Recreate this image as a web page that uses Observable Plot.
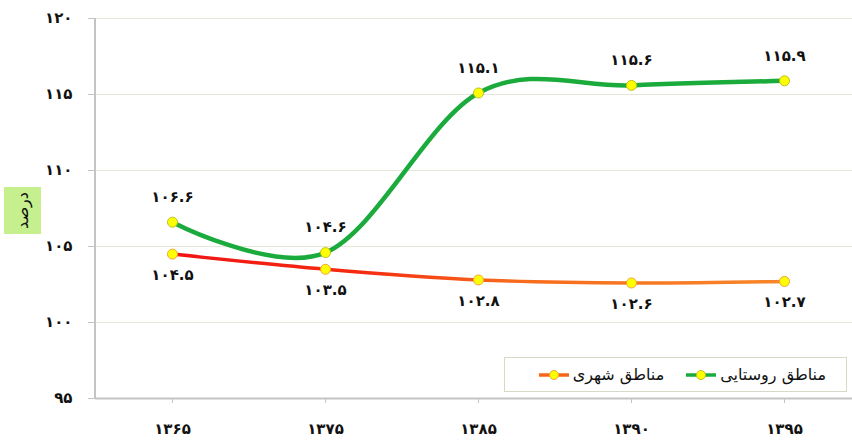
<!DOCTYPE html>
<html>
<head>
<meta charset="utf-8">
<script src="https://cdn.jsdelivr.net/npm/d3@7"></script>
<script src="https://cdn.jsdelivr.net/npm/@observablehq/plot@0.6"></script>
<style>
  html, body { margin: 0; padding: 0; background: #fff; }
  #wrap { position: relative; width: 852px; height: 442px; font-family: "DejaVu Sans", sans-serif; }
  #ylabel {
    position: absolute; left: 4px; top: 187px; width: 37px; height: 47px;
    background: #c6f08e; display: flex; align-items: center; justify-content: center;
  }
  #ylabel span { display: inline-block; transform: rotate(-90deg); font-size: 16px; color: #111; white-space: nowrap; }
  #legend {
    position: absolute; left: 504px; top: 357px; width: 343px; height: 35px;
    border: 1px solid #d3dac6; background: #fff; box-sizing: border-box;
    display: flex; flex-direction: row; direction: rtl; align-items: center;
    padding-right: 20px; font-size: 16px; color: #111;
  }
  .item { display: flex; direction: rtl; align-items: center; gap: 4px; }
  .item + .item { margin-right: 22px; }
</style>
</head>
<body>
<div id="wrap">
  <div id="chart"></div>
  <div id="ylabel"><span>درصد</span></div>
  <div id="legend"></div>
</div>
<script>
// ---- data ----
const years = ["۱۳۶۵", "۱۳۷۵", "۱۳۸۵", "۱۳۹۰", "۱۳۹۵"];
const urban = [104.5, 103.5, 102.8, 102.6, 102.7];
const rural = [106.6, 104.6, 115.1, 115.6, 115.9];
const urbanLabels = ["۱۰۴.۵", "۱۰۳.۵", "۱۰۲.۸", "۱۰۲.۶", "۱۰۲.۷"];
const ruralLabels = ["۱۰۶.۶", "۱۰۴.۶", "۱۱۵.۱", "۱۱۵.۶", "۱۱۵.۹"];
const yTicks = [95, 100, 105, 110, 115, 120];
const yTickLabels = ["۹۵", "۱۰۰", "۱۰۵", "۱۱۰", "۱۱۵", "۱۲۰"];
const seriesNames = ["مناطق روستایی", "مناطق شهری"];

const urbanData = years.map((y, i) => ({year: y, value: urban[i], label: urbanLabels[i]}));
const ruralData = years.map((y, i) => ({year: y, value: rural[i], label: ruralLabels[i]}));

const green = "#1aab3c";
const font = "DejaVu Sans";

const chart = Plot.plot({
  width: 852,
  height: 442,
  marginTop: 18,
  marginBottom: 44,
  marginLeft: 95,
  marginRight: 0,
  style: {fontFamily: font, background: "white", color: "#111"},
  x: {type: "point", domain: years, range: [171.5, 783.5], padding: 0, label: null},
  y: {domain: [95, 120], label: null},
  marks: [
    Plot.ruleY(yTicks.slice(1), {stroke: "#e8e6da", strokeWidth: 1}),
    Plot.ruleY([95], {stroke: "#c4c4c4", strokeWidth: 2}),
    Plot.axisY({
      ticks: yTicks,
      tickFormat: d => yTickLabels[yTicks.indexOf(d)],
      tickSize: 7, tickPadding: 16, stroke: "#c4c4c4",
      fontSize: 15, fontWeight: "bold", fill: "#111", label: null
    }),
    Plot.axisX({
      tickSize: 5, tickPadding: 20, stroke: "#c4c4c4",
      fontSize: 15, fontWeight: "bold", fill: "#111", label: null
    }),
    Plot.line(urbanData, {x: "year", y: "value", stroke: "url(#urbanGrad)", strokeWidth: 3.5, curve: "cardinal"}),
    Plot.line(ruralData, {x: "year", y: "value", stroke: green, strokeWidth: 4.5, curve: "cardinal"}),
    Plot.dot(urbanData, {x: "year", y: "value", r: 5, fill: "#ffff00", stroke: "#f2a23a", strokeWidth: 1}),
    Plot.dot(ruralData, {x: "year", y: "value", r: 5, fill: "#ffff00", stroke: "#b9c21a", strokeWidth: 1}),
    Plot.text(urbanData, {x: "year", y: "value", text: "label", dy: 21, fontSize: 15, fontWeight: "bold", fill: "#111"}),
    Plot.text(ruralData, {x: "year", y: "value", text: "label", dy: -25, fontSize: 15, fontWeight: "bold", fill: "#111"})
  ]
});

// gradient for urban line
const svg = d3.select(chart);
const defs = svg.insert("defs", ":first-child");
const grad = defs.append("linearGradient").attr("id", "urbanGrad")
  .attr("x1", "0%").attr("x2", "100%").attr("y1", "0%").attr("y2", "0%");
grad.append("stop").attr("offset", "0%").attr("stop-color", "#f01414");
grad.append("stop").attr("offset", "30%").attr("stop-color", "#f52a10");
grad.append("stop").attr("offset", "55%").attr("stop-color", "#f76a1c");
grad.append("stop").attr("offset", "100%").attr("stop-color", "#f7862a");

// left axis line using the y scale
const ys = chart.scale("y");
svg.append("line")
  .attr("x1", 95).attr("x2", 95)
  .attr("y1", ys.apply(120)).attr("y2", ys.apply(95))
  .attr("stroke", "#c4c4c4").attr("stroke-width", 2);

document.getElementById("chart").appendChild(chart);

// legend
const legend = document.getElementById("legend");
const legendColors = [[green, "#b9c21a"], ["#f7641c", "#f2a23a"]];
seriesNames.forEach((name, i) => {
  const item = document.createElement("div");
  item.className = "item";
  const label = document.createElement("span");
  label.textContent = name;
  item.appendChild(label);
  const ns = "http://www.w3.org/2000/svg";
  const s = document.createElementNS(ns, "svg");
  s.setAttribute("width", "30"); s.setAttribute("height", "12");
  const ln = document.createElementNS(ns, "line");
  ln.setAttribute("x1", "0"); ln.setAttribute("x2", "30"); ln.setAttribute("y1", "6"); ln.setAttribute("y2", "6");
  ln.setAttribute("stroke", legendColors[i][0]); ln.setAttribute("stroke-width", "3.5");
  const c = document.createElementNS(ns, "circle");
  c.setAttribute("cx", "15"); c.setAttribute("cy", "6"); c.setAttribute("r", "4.5");
  c.setAttribute("fill", "#ffff00"); c.setAttribute("stroke", legendColors[i][1]);
  s.appendChild(ln); s.appendChild(c);
  item.appendChild(s);
  legend.appendChild(item);
});
</script>
</body>
</html>
